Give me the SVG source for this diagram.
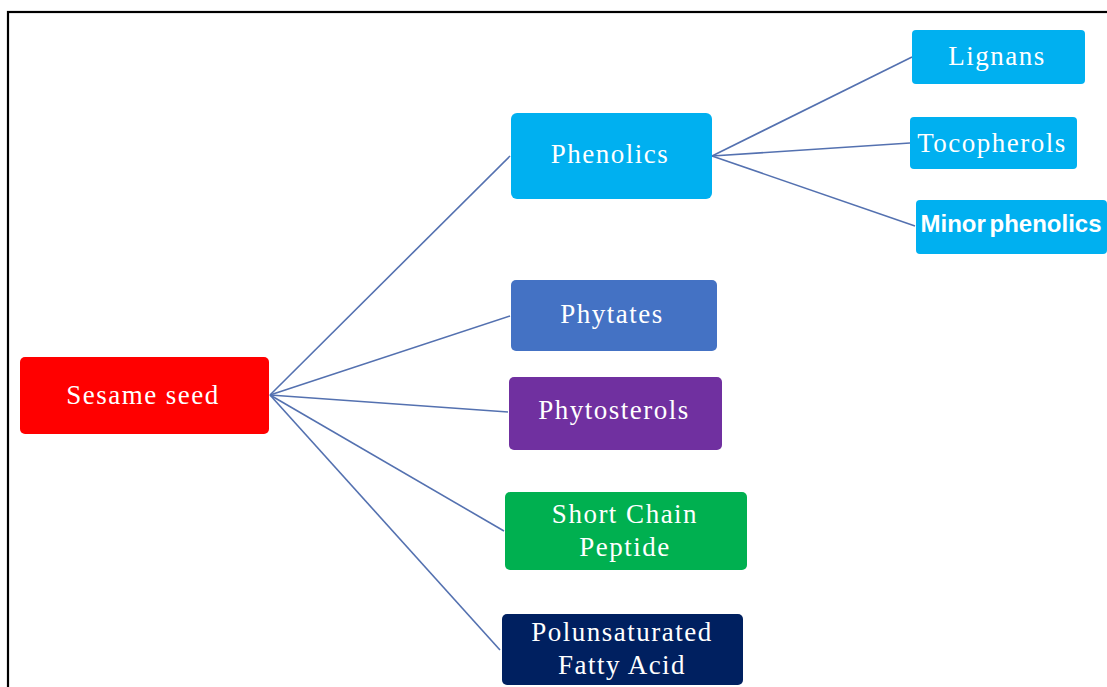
<svg xmlns="http://www.w3.org/2000/svg" width="1107" height="687" viewBox="0 0 1107 687">
<style>
.lbl{font-family:"Liberation Serif","Times New Roman",serif;font-size:27px;fill:#fff;text-anchor:middle;letter-spacing:1.5px}
.bold{font-family:"Liberation Sans",Arial,sans-serif;font-size:24px;font-weight:bold;fill:#fff;text-anchor:middle}
.conn line{stroke:#5471b0;stroke-width:1.6;fill:none}
</style>
<rect x="8" y="12" width="1110" height="690" fill="#fff" stroke="#000" stroke-width="2.2"/>
<g class="conn" id="connectors">
<line x1="270" y1="395" x2="510" y2="156"/>
<line x1="270" y1="395" x2="510" y2="316"/>
<line x1="270" y1="395" x2="508" y2="412"/>
<line x1="270" y1="395" x2="504" y2="531"/>
<line x1="270" y1="395" x2="500" y2="650"/>
<line x1="712" y1="156" x2="912" y2="57"/>
<line x1="712" y1="156" x2="910" y2="143"/>
<line x1="712" y1="156" x2="915" y2="226"/>
</g>
<g id="sesame"><rect x="20" y="357" width="249" height="77" rx="5" fill="#ff0000"/><text class="lbl" x="143" y="404">Sesame seed</text></g>
<g id="phenolics"><rect x="511" y="113" width="201" height="86" rx="6" fill="#00b0f0"/><text class="lbl" x="610" y="163">Phenolics</text></g>
<g id="phytates"><rect x="511" y="280" width="206" height="71" rx="5" fill="#4472c4"/><text class="lbl" x="612" y="323">Phytates</text></g>
<g id="phytosterols"><rect x="509" y="377" width="213" height="73" rx="5" fill="#7030a0"/><text class="lbl" x="614" y="419">Phytosterols</text></g>
<g id="peptide"><rect x="505" y="492" width="242" height="78" rx="5" fill="#00b050"/><text class="lbl" x="625" y="523">Short Chain</text><text class="lbl" x="625" y="556">Peptide</text></g>
<g id="pufa"><rect x="502" y="614" width="241" height="71" rx="5" fill="#002060"/><text class="lbl" x="622" y="641">Polunsaturated</text><text class="lbl" x="622" y="674">Fatty Acid</text></g>
<g id="lignans"><rect x="912" y="30" width="173" height="54" rx="4" fill="#00b0f0"/><text class="lbl" x="997" y="65">Lignans</text></g>
<g id="tocopherols"><rect x="910" y="117" width="167" height="52" rx="4" fill="#00b0f0"/><text class="lbl" x="992" y="152">Tocopherols</text></g>
<g id="minor"><rect x="916" y="200" width="191" height="54" rx="4" fill="#00b0f0"/><text class="bold" x="1011" y="232" word-spacing="-3">Minor phenolics</text></g>
</svg>
